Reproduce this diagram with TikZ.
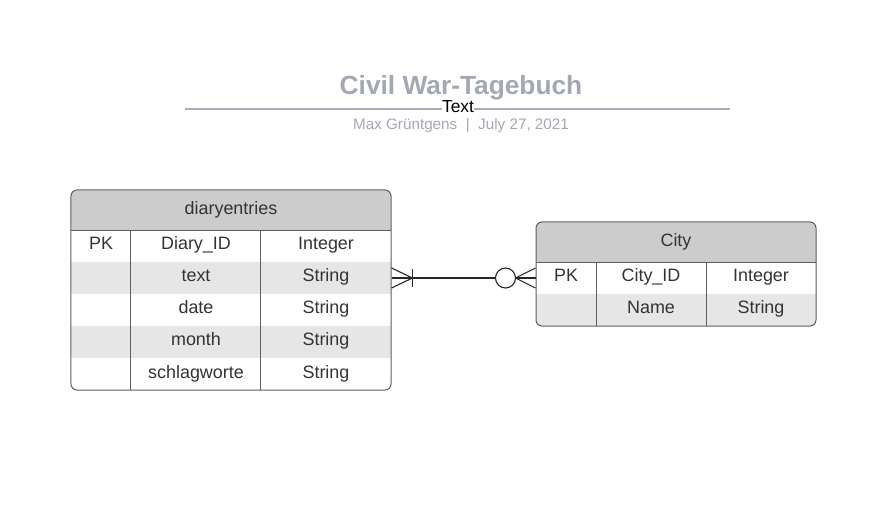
\documentclass[tikz,border=0pt]{standalone}
\usepackage{fontspec}
\setmainfont{Liberation Sans}
\usetikzlibrary{positioning}
\definecolor{titlegray}{HTML}{A3A8B3}
\definecolor{rulegray}{HTML}{A9ADB8}
\definecolor{headgray}{HTML}{CCCCCC}
\definecolor{rowgray}{HTML}{E6E6E6}
\definecolor{linegray}{HTML}{5E5E5E}
\definecolor{textgray}{HTML}{333333}
\tikzset{
  tablebox/.style={draw=linegray, line width=1bp, rounded corners=6bp, inner sep=0pt},
  cell/.style={text=textgray, font=\fontsize{18}{21}\selectfont, inner sep=0pt, anchor=base},
  rel/.style={draw=black!85, line width=1.1bp},
}
\begin{document}
\begin{tikzpicture}[x=1bp,y=-1bp,line join=bevel]
  \useasboundingbox (0,0) rectangle (884,511);
%%
  % Title block
  \node (title) [anchor=base, inner sep=0pt, text=titlegray, font=\bfseries\fontsize{26.4}{30}\selectfont] at (461,95) {Civil War-Tagebuch};
  \coordinate (ruleW) at (185,109);
  \coordinate (ruleE) at (730,109);
  \draw [rulegray, line width=2bp] (ruleW) -- (ruleE);
  \node (caption) [anchor=base, fill=white, inner sep=0.3bp, font=\fontsize{17.5}{20}\selectfont] at (458,113) {Text};
  \node (byline) [anchor=base, inner sep=0pt, text=titlegray, font=\fontsize{15.3}{18}\selectfont] at (461,130) {Max Grüntgens\ \ |\ \ July 27, 2021};
  % Node: diaryentries
\begin{scope}
  \begin{scope}
    \clip [rounded corners=6bp] (71,190) rectangle (391,390);
    \fill [headgray] (71,190) rectangle (391,230);
    \fill [rowgray] (71,262) rectangle (391,294);
    \fill [rowgray] (71,326) rectangle (391,358);
  \end{scope}
  \node (diaryentries) [tablebox, minimum width=320bp, minimum height=200bp] at (231,290) {};
  \draw [linegray] (71,230) -- (391,230);
  \draw [linegray] (130,230) -- (130,390);
  \draw [linegray] (260,230) -- (260,390);
  \node (de-head) [cell] at (231,215) {diaryentries};
  \node (de-pk) [cell] at (101,250) {PK};
  \node (de-id) [cell] at (196,250) {Diary\_ID};
  \node (de-idtype) [cell] at (326,250) {Integer};
  \node (de-text) [cell] at (196,282) {text};
  \node (de-texttype) [cell] at (326,282) {String};
  \node (de-date) [cell] at (196,314) {date};
  \node (de-datetype) [cell] at (326,314) {String};
  \node (de-month) [cell] at (196,346) {month};
  \node (de-monthtype) [cell] at (326,346) {String};
  \node (de-tags) [cell] at (196,378) {schlagworte};
  \node (de-tagstype) [cell] at (326,378) {String};
\end{scope}
  % Node: City
\begin{scope}
  \begin{scope}
    \clip [rounded corners=6bp] (536,222) rectangle (816,326);
    \fill [headgray] (536,222) rectangle (816,262);
    \fill [rowgray] (536,294) rectangle (816,326);
  \end{scope}
  \node (City) [tablebox, minimum width=280bp, minimum height=104bp] at (676,274) {};
  \draw [linegray] (536,262) -- (816,262);
  \draw [linegray] (596,262) -- (596,326);
  \draw [linegray] (706,262) -- (706,326);
  \node (ci-head) [cell] at (676,247) {City};
  \node (ci-pk) [cell] at (566,282) {PK};
  \node (ci-id) [cell] at (651,282) {City\_ID};
  \node (ci-idtype) [cell] at (761,282) {Integer};
  \node (ci-name) [cell] at (651,314) {Name};
  \node (ci-nametype) [cell] at (761,314) {String};
\end{scope}
  % Edge: diaryentries -> City
  \coordinate (relA) at (diaryentries.east |- 0,278);
  \coordinate (relB) at (City.west |- 0,278);
  \draw [rel] (relA) -- (relB);
  \draw [rel] (relA) ++(0,-10) -- ++(21,10) -- ++(-21,10);
  \draw [rel] (relA) ++(21,-9) -- ++(0,18);
  \draw [rel] (relB) ++(0,-10) -- ++(-20,10) -- ++(20,10);
  \draw [rel, fill=white] (relB) ++(-30,0) circle [radius=10bp];
%
\end{tikzpicture}
\end{document}
